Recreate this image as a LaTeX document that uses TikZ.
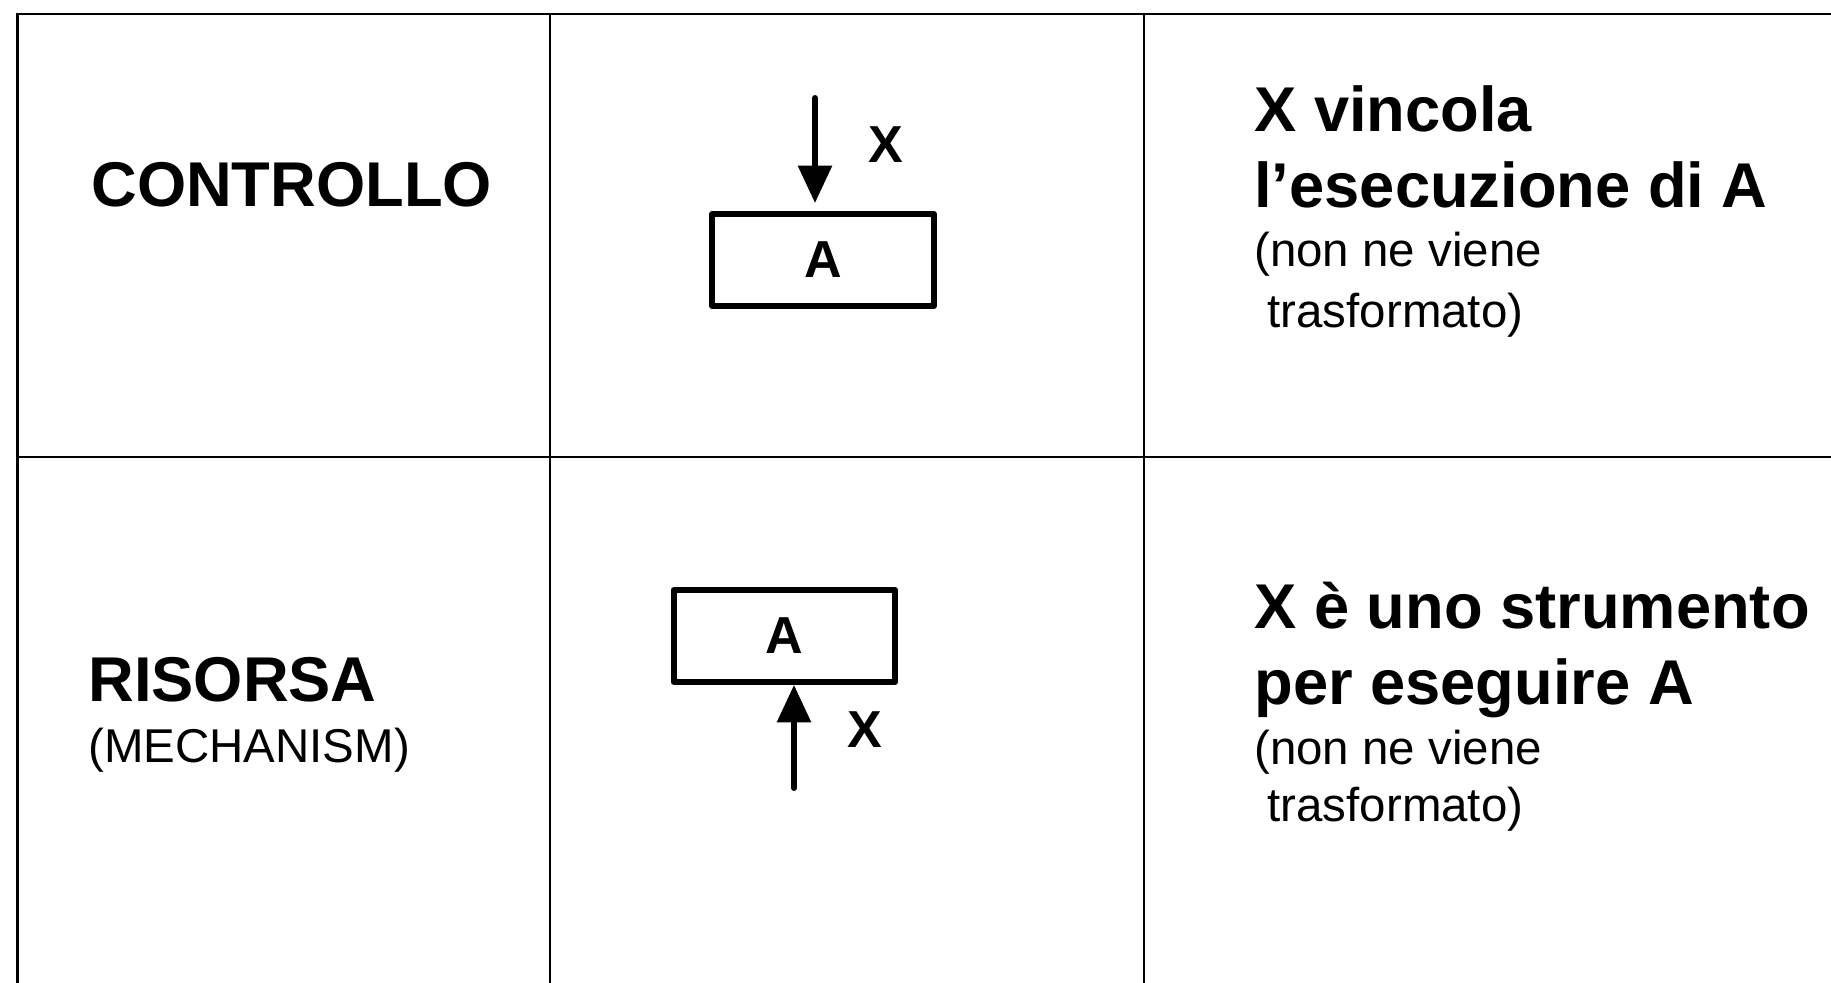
\documentclass[tikz,border=0pt]{standalone}
\usepackage{fontspec}
\setmainfont{Liberation Sans}
\usetikzlibrary{arrows.meta}

\tikzset{
  tableline/.style={line width=1.4pt},
  activity/.style={draw, line width=3.6pt, line join=round, minimum width=4.43cm, minimum height=1.83cm, inner sep=0pt, font=\fontsize{29.6}{30}\selectfont\bfseries},
  flow/.style={line width=3.4pt, line cap=round, -{Triangle[length=0.75cm,width=0.66cm]}},
  lbl/.style={inner sep=0pt, font=\fontsize{29.6}{30}\selectfont\bfseries},
  bigtxt/.style={anchor=base west, inner sep=0pt, font=\fontsize{36}{40}\selectfont\bfseries},
  smalltxt/.style={anchor=base west, inner sep=0pt, font=\fontsize{27}{30}\selectfont},
}

\begin{document}
\begin{tikzpicture}
\useasboundingbox (0,0) rectangle (36.62,19.66);

% Table
\draw[tableline] (36.8,19.38) -| (0.35,-0.2);
\draw[tableline] (0.35,10.52) -- (36.8,10.52);
\draw[tableline] (11.0,19.38) -- (11.0,-0.2);
\draw[tableline] (22.88,19.38) -- (22.88,-0.2);

% Row 1: controllo
\node[bigtxt] (ctrlname) at (1.82,15.52) {CONTROLLO};
\node[activity] (ctrlbox) at (16.46,14.46) {A};
\coordinate (ctrlsrc) at (16.3,17.7);
\draw[flow] (ctrlsrc) -- ([yshift=0.16cm]ctrlsrc |- ctrlbox.north);
\node[lbl] (ctrlx) at (17.72,16.76) {X};
\node[bigtxt] (ctrldesc1) at (25.08,17.02) {X vincola};
\node[bigtxt] (ctrldesc2) at (25.08,15.50) {l’esecuzione di A};
\node[smalltxt] (ctrlnote1) at (25.08,14.32) {(non ne viene};
\node[smalltxt] (ctrlnote2) at (25.08,13.10) {\ trasformato)};

% Row 2: risorsa
\node[bigtxt] (resname) at (1.76,5.62) {RISORSA};
\node[smalltxt] (resmech) at (1.76,4.40) {(MECHANISM)};
\node[activity] (resbox) at (15.69,6.94) {A};
\coordinate (ressrc) at (15.88,3.9);
\draw[flow] (ressrc) -- (ressrc |- resbox.south);
\node[lbl] (resx) at (17.3,5.06) {X};
\node[bigtxt] (resdesc1) at (25.08,7.08) {X è uno strumento};
\node[bigtxt] (resdesc2) at (25.08,5.56) {per eseguire A};
\node[smalltxt] (resnote1) at (25.08,4.36) {(non ne viene};
\node[smalltxt] (resnote2) at (25.08,3.22) {\ trasformato)};
\end{tikzpicture}
\end{document}
